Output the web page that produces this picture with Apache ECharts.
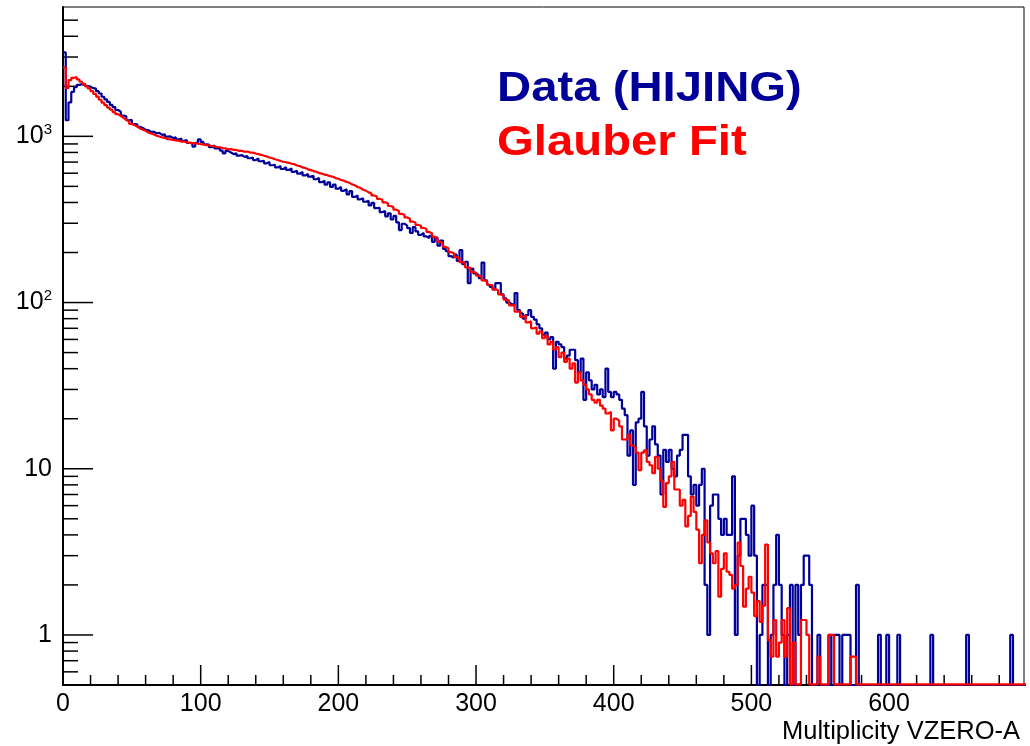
<!DOCTYPE html>
<html>
<head>
<meta charset="utf-8">
<title>Multiplicity VZERO-A</title>
<script src="https://cdn.jsdelivr.net/npm/echarts@6/dist/echarts.min.js"></script>
<style>
    html, body { margin: 0; padding: 0; background: #fff; }
    #chart { width: 1030px; height: 746px; }
</style>
</head>
<body>
<div id="chart"></div>
<script>
// histogram binning (x = multiplicity, 2 units per bin, bins start at 0)
var BIN_WIDTH = 2;
var X_MIN = 0, X_MAX = 698;
var Y_MIN = 0.5, Y_MAX = 6000;

// Data (HIJING), counts per bin
var dataCounts = [
    3200, 1250, 1600, 1850, 1980, 2040, 2060, 2030, 2010, 1990,
    1950, 1935, 1870, 1810, 1730, 1670, 1610, 1545, 1500, 1440,
    1405, 1335, 1320, 1250, 1255, 1185, 1180, 1140, 1122, 1095,
    1090, 1062, 1068, 1040, 1048, 1020, 1030, 995, 1000, 975,
    985, 958, 970, 940, 948, 912, 905, 868, 915, 958,
    925, 896, 892, 860, 880, 846, 856, 820, 790, 818,
    800, 782, 790, 765, 770, 752, 762, 738, 745, 720,
    735, 708, 712, 688, 700, 670, 675, 650, 662, 636,
    652, 628, 640, 612, 620, 596, 610, 582, 594, 572,
    578, 552, 562, 530, 540, 512, 528, 496, 512, 484,
    496, 470, 480, 448, 468, 432, 440, 418, 424, 404,
    410, 384, 398, 370, 372, 350, 356, 330, 344, 316,
    332, 304, 273, 298, 290, 280, 262, 284, 268, 255,
    262, 250, 244, 252, 232, 246, 220, 236, 210, 204,
    190, 186, 194, 178, 207, 170, 176, 131, 160, 150,
    146, 140, 174, 136, 128, 124, 120, 131, 131, 112,
    106, 100, 98, 96, 114, 90, 86, 80, 84, 90,
    82, 79, 74, 70, 64, 66, 60, 62, 40, 58,
    56, 54, 46, 48, 52, 52, 45, 38, 46, 26,
    38, 34, 30, 32, 28, 30, 27, 40, 29, 27,
    29, 28, 26, 23, 21, 12, 17, 8, 19, 20,
    29, 18, 12, 15, 18, 14, 12, 7, 13, 11,
    13, 10, 9, 12, 13, 16, 16, 9, 7, 8,
    6, 8, 10, 2, 1, 6, 7, 7, 5, 4,
    5, 4, 4, 9, 1, 3, 5, 5, 4, 3,
    6, 3, 0, 1, 2, 2, 0, 1, 2, 4,
    2, 1, 0, 1, 2, 0, 2, 1, 2, 3,
    3, 2, 0, 0, 1, 0, 0, 0, 1, 0,
    1, 1, 0, 1, 1, 1, 0, 0, 2, 0,
    0, 0, 0, 0, 0, 0, 1, 0, 0, 1,
    0, 0, 0, 1, 0, 0, 0, 0, 0, 0,
    0, 0, 0, 0, 0, 1, 0, 0, 0, 0,
    0, 0, 0, 0, 0, 0, 0, 0, 1, 0,
    0, 0, 0, 0, 0, 0, 0, 0, 0, 0,
    0, 0, 0, 0, 1, 0, 0, 0, 0, 0
];

// Glauber Fit, expected counts per bin
var fitCounts = [
    2600, 1950, 2180, 2250, 2270, 2200, 2130, 2070, 2000, 1940,
    1870, 1800, 1735, 1660, 1595, 1540, 1490, 1445, 1400, 1360,
    1325, 1290, 1255, 1230, 1190, 1165, 1145, 1115, 1095, 1080,
    1055, 1040, 1025, 1008, 998, 985, 978, 962, 958, 952,
    945, 942, 930, 930, 918, 917, 910, 910, 903, 898,
    895, 886, 884, 874, 872, 862, 860, 850, 846, 836,
    838, 829, 828, 818, 818, 808, 810, 799, 798, 788,
    782, 774, 764, 757, 746, 738, 728, 721, 711, 703,
    698, 693, 684, 680, 668, 662, 650, 645, 633, 626,
    618, 612, 601, 597, 588, 584, 576, 571, 561, 556,
    546, 541, 531, 526, 514, 508, 496, 490, 477, 471,
    460, 454, 441, 435, 421, 415, 401, 395, 381, 375,
    362, 355, 342, 337, 325, 319, 307, 303, 293, 290,
    281, 278, 266, 261, 249, 244, 232, 228, 216, 212,
    201, 198, 188, 185, 175, 173, 163, 162, 153, 151,
    145, 143, 136, 135, 128, 127, 120, 119, 112, 111,
    104, 103, 96, 97, 88, 89, 82, 84, 76, 77,
    70, 71, 65, 67, 61, 63, 56, 58, 52, 54,
    47, 50, 44, 46, 40, 43, 33, 38, 34, 32,
    30, 28, 26, 25, 26, 24, 23, 21.5, 22, 17,
    20, 19.5, 18, 15, 15, 16, 13.8, 13.5, 12.5, 9.8,
    12.5, 12.9, 11, 10.5, 9.4, 11.8, 10, 8.5, 5.9, 8.2,
    9, 11, 7.5, 7.5, 6, 6.5, 4.5, 5.2, 6.8, 5.5,
    4.3, 2.7, 4.0, 4.9, 3.6, 3.1, 2.7, 3.2, 1.7, 2.5,
    3.1, 2.4, 2.3, 1.9, 2.0, 3.6, 2.6, 1.48, 1.9, 2.24,
    1.8, 1.3, 1.6, 1.2, 1.5, 3.5, 0.93, 0.74, 1.23, 0.74,
    0.9, 1.23, 0.74, 1.45, 0, 0.9, 0, 0, 1.23, 1.23,
    1.0, 0, 0, 0, 0.74, 0, 0, 0, 1.0, 1.0,
    0, 0, 0, 0, 0, 0, 0.74, 0.74, 0, 0,
    0, 0, 0, 0, 0, 0, 0, 0, 0, 0,
    0, 0, 0, 0, 0, 0, 0, 0, 0, 0,
    0, 0, 0, 0, 0, 0, 0, 0, 0, 0,
    0, 0, 0, 0, 0, 0, 0, 0, 0, 0,
    0, 0, 0, 0, 0, 0, 0, 0, 0, 0,
    0, 0, 0, 0, 0, 0, 0, 0, 0, 0
];

var xMajorTicks = [0, 100, 200, 300, 400, 500, 600];
var xMinorTicks = [20, 40, 60, 80, 120, 140, 160, 180, 220, 240, 260, 280,
    320, 340, 360, 380, 420, 440, 460, 480, 520, 540, 560, 580, 620, 640, 660, 680];
var yMajorTicks = [1, 10, 100, 1000];
var yMinorTicks = [0.6, 0.7, 0.8, 0.9, 2, 3, 4, 5, 6, 7, 8, 9,
    20, 30, 40, 50, 60, 70, 80, 90, 200, 300, 400, 500, 600, 700, 800, 900,
    2000, 3000, 4000, 5000];
// labels of the decades 1, 10, 10^2, 10^3
var yTickLabels = ['{n|1}', '{n|10}', '{n|10}{s|2}', '{n|10}{s|3}'];

var strDataName = 'Data (HIJING)';
var strFitName = 'Glauber Fit';
var strXTitle = 'Multiplicity VZERO-A';

var FONT = '"Liberation Sans", Arial, Helvetica, sans-serif';

//#region helpers

// histogram bins -> step line points (left edge of every bin plus closing edge)
var _toSteps = function (arrCounts, fFloor) {
    var arrPts = [];
    for (var i = 0; i < arrCounts.length; i++) {
        arrPts.push([X_MIN + i * BIN_WIDTH, Math.max(arrCounts[i], fFloor)]);
    }
    arrPts.push([X_MIN + arrCounts.length * BIN_WIDTH, Math.max(arrCounts[arrCounts.length - 1], fFloor)]);
    return arrPts;
};

var _xTick = function (iLen) {
    return function (params, api) {
        var p = api.coord([api.value(0), Y_MIN]);
        return {
            type: 'line',
            shape: { x1: p[0], y1: p[1], x2: p[0], y2: p[1] - iLen },
            style: { stroke: '#000', lineWidth: 1.5 }
        };
    };
};

var _yTick = function (iLen) {
    return function (params, api) {
        var p = api.coord([X_MIN, api.value(1)]);
        return {
            type: 'line',
            shape: { x1: p[0], y1: p[1], x2: p[0] + iLen, y2: p[1] },
            style: { stroke: '#000', lineWidth: 1.5 }
        };
    };
};

//#endregion

var oChart = echarts.init(document.getElementById('chart'));

var option = {
    backgroundColor: '#fff',
    animation: false,
    grid: {
        left: 63, right: 6, top: 7, bottom: 61,
        show: true, borderColor: '#000', borderWidth: 1,
        containLabel: false, outerBoundsMode: 'none'
    },
    xAxis: {
        type: 'value',
        min: X_MIN, max: X_MAX, interval: 100,
        axisLine: { show: true, onZero: false, lineStyle: { color: '#000', width: 2 } },
        axisTick: { show: false },
        splitLine: { show: false },
        axisLabel: {
            color: '#000', fontFamily: FONT, fontSize: 25, margin: 7,
            showMaxLabel: false,
            formatter: function (v) { return v % 100 === 0 ? String(v) : ''; }
        }
    },
    yAxis: {
        type: 'log', logBase: 10,
        min: Y_MIN, max: Y_MAX,
        axisLine: { show: true, lineStyle: { color: '#000', width: 2 } },
        axisTick: { show: false },
        splitLine: { show: false },
        axisLabel: {
            color: '#000', margin: 11,
            showMinLabel: false, showMaxLabel: false,
            formatter: function (v) {
                var e = Math.round(Math.log(v) / Math.LN10);
                if (e < 0 || e >= yTickLabels.length) return '';
                if (Math.abs(v - Math.pow(10, e)) > 1e-6 * Math.pow(10, e)) return '';
                return yTickLabels[e];
            },
            rich: {
                n: { fontFamily: FONT, fontSize: 25, color: '#000' },
                s: { fontFamily: FONT, fontSize: 15, color: '#000', padding: [0, 0, 13, 0] }
            }
        }
    },
    graphic: [
        {
            type: 'text', left: 497, top: 68,
            style: { text: strDataName, fill: '#000099', font: 'bold 43px ' + FONT },
            scaleX: 1.1
        },
        {
            type: 'text', left: 497, top: 122,
            style: { text: strFitName, fill: '#ff0000', font: 'bold 43px ' + FONT },
            scaleX: 1.1
        },
        {
            type: 'text', right: 10, top: 719,
            style: { text: strXTitle, fill: '#000', font: '25.5px ' + FONT }
        }
    ],
    series: [
        {
            name: strDataName, type: 'line', step: 'end',
            data: _toSteps(dataCounts, Y_MIN),
            symbol: 'none', clip: true, silent: true, z: 3,
            lineStyle: { color: '#000099', width: 2.2 }
        },
        {
            name: strFitName, type: 'line', step: 'end',
            data: _toSteps(fitCounts, Y_MIN * 1.01),
            symbol: 'none', clip: true, silent: true, z: 4,
            lineStyle: { color: '#ff0000', width: 2.2 }
        },
        { type: 'custom', silent: true, clip: false, z: 2, data: xMajorTicks.map(function (v) { return [v, Y_MIN]; }), renderItem: _xTick(20) },
        { type: 'custom', silent: true, clip: false, z: 2, data: xMinorTicks.map(function (v) { return [v, Y_MIN]; }), renderItem: _xTick(10) },
        { type: 'custom', silent: true, clip: false, z: 2, data: yMajorTicks.map(function (v) { return [X_MIN, v]; }), renderItem: _yTick(30) },
        { type: 'custom', silent: true, clip: false, z: 2, data: yMinorTicks.map(function (v) { return [X_MIN, v]; }), renderItem: _yTick(15) }
    ]
};

oChart.setOption(option);
</script>
</body>
</html>
